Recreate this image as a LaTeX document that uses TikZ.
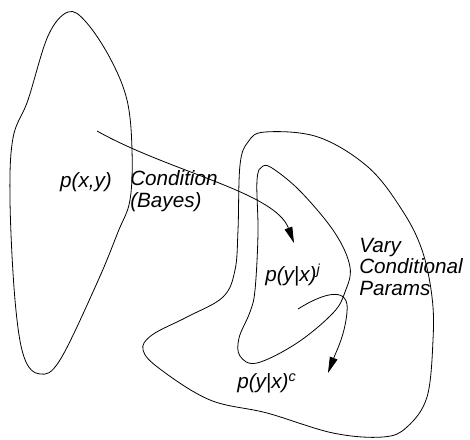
\documentclass[tikz,border=0pt]{standalone}
\usepackage{fontspec}
\setmainfont{Liberation Sans}
\usepackage{tikz}
\usetikzlibrary{arrows.meta,positioning,calc}

\tikzset{
  blob/.style={draw,line width=0.6pt,smooth cycle,tension=0.6},
  flow/.style={draw,line width=0.6pt,-{Triangle[length=12pt,width=6pt]}},
  lbl/.style={inner sep=0pt,font=\fontsize{15.5}{16}\selectfont\itshape,align=left}
}

\begin{document}
\begin{tikzpicture}[x=0.75pt,y=-0.75pt]
  \useasboundingbox (0,0) rectangle (470,439);

  % joint distribution
  \draw[blob] plot coordinates {(68,12) (86,22) (110,58) (127,100) (132,150) (130,200)
    (118,232) (97,283) (60,360) (40,374) (24,357) (15,300) (10,200) (13,138)
    (28,100) (48,36)};
  \node[lbl,anchor=base] (pxy) at (86,187) {p(x,y)};

  % family of conditionals
  \draw[blob] plot coordinates {(265,132) (318,137) (368,167) (402,210) (422,250)
    (432,297) (433,340) (427,397) (407,427) (383,437) (333,433) (267,413)
    (210,400) (160,369) (143,350) (152,335) (187,317) (223,297) (235,270)
    (238,230) (240,165) (248,142)};

  % one conditional
  \draw[blob] plot coordinates {(263,166) (275,170) (302,193) (335,233) (350,267)
    (345,292) (333,313) (297,343) (257,363) (240,356) (239,338) (250,312)
    (255,290) (258,233) (257,180)};
  \node[lbl,anchor=base west] (pj) at (265,281) {p(y|x)\textsuperscript{j}};
  \node[lbl,anchor=base west] (pc) at (237,388) {p(y|x)\textsuperscript{c}};

  % conditioning
  \coordinate (cfrom) at (97,131);
  \coordinate (cto) at (294,243);
  \draw[flow] (cfrom) .. controls (170,172) and (275,192) .. (cto);
  \node[lbl,anchor=base west] (cond) at (130,207) {Condition\\(Bayes)};

  % varying parameters
  \coordinate (vfrom) at (298,309);
  \coordinate (vto) at (328,373);
  \draw[flow] (vfrom) .. controls (325,292) and (350,286) .. (347,312)
    .. controls (345,335) and (336,352) .. (vto);
  \node[lbl,anchor=base west] (vary) at (359,295) {Vary\\Conditional\\Params};
\end{tikzpicture}
\end{document}
